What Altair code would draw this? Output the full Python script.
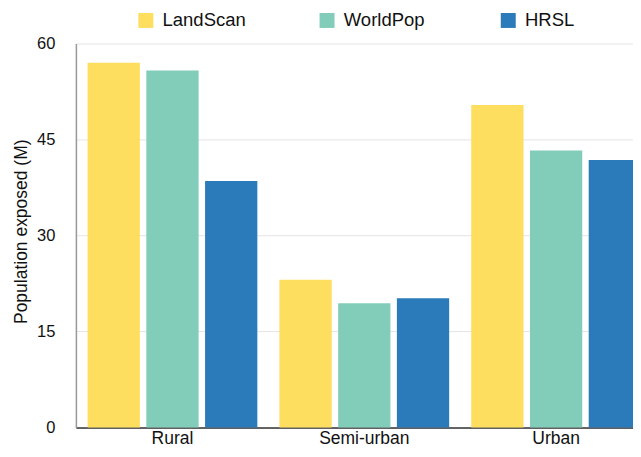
import altair as alt
import pandas as pd

# ---- data ----
categories = ["Rural", "Semi-urban", "Urban"]
datasets = ["LandScan", "WorldPop", "HRSL"]
landscan = [57.0, 23.1, 50.4]
worldpop = [55.8, 19.4, 43.3]
hrsl = [38.5, 20.2, 41.8]
colors = ["#FDDE5F", "#82CDBA", "#2B7BBA"]
y_ticks = [0, 15, 30, 45, 60]

rows = []
for name, vals in zip(datasets, [landscan, worldpop, hrsl]):
    for c, v in zip(categories, vals):
        rows.append({"area": c, "dataset": name, "value": v})
df = pd.DataFrame(rows)

FONT = "Liberation Sans"

chart = alt.Chart(df).mark_bar().encode(
    x=alt.X(
        "area:N", sort=categories, title=None,
        scale=alt.Scale(paddingInner=0.115, paddingOuter=0.0305, align=1),
        axis=alt.Axis(labelAngle=0, ticks=False, labelFontSize=17.5, labelPadding=2,
                      labelColor="#111", domainColor="#333", domainWidth=1.5,
                      grid=False, labelFont=FONT),
    ),
    xOffset=alt.XOffset("dataset:N", sort=datasets, scale=alt.Scale(paddingInner=0.11)),
    y=alt.Y(
        "value:Q", title="Population exposed (M)",
        scale=alt.Scale(domain=[0, 60], nice=False),
        axis=alt.Axis(values=y_ticks, ticks=False, labelPadding=21, labelFontSize=16.5,
                      labelColor="#111", titleColor="#111",
                      titleFontSize=17.5, titleFontWeight="normal", titlePadding=6,
                      titleY=188,
                      domainColor="#999", domainWidth=1.5,
                      gridColor="#e4e4e4", gridWidth=1,
                      labelFont=FONT, titleFont=FONT),
    ),
    color=alt.Color(
        "dataset:N", sort=datasets,
        scale=alt.Scale(domain=datasets, range=colors),
        legend=alt.Legend(title=None, orient="none", legendX=60.8, legendY=-32.5,
                          direction="horizontal", columns=3, symbolType="square",
                          symbolSize=225, symbolStrokeWidth=0, labelFontSize=18.5,
                          labelOffset=7.5, columnPadding=71.5, gridAlign="all",
                          labelFont=FONT, labelColor="#111", padding=0),
    ),
).properties(
    width=566, height=384.5,
    padding={"left": 4, "top": 2.25, "right": -8, "bottom": 0},
).configure_view(strokeWidth=0)

chart.save("out.html", embed_options={"renderer": "svg", "actions": False})
